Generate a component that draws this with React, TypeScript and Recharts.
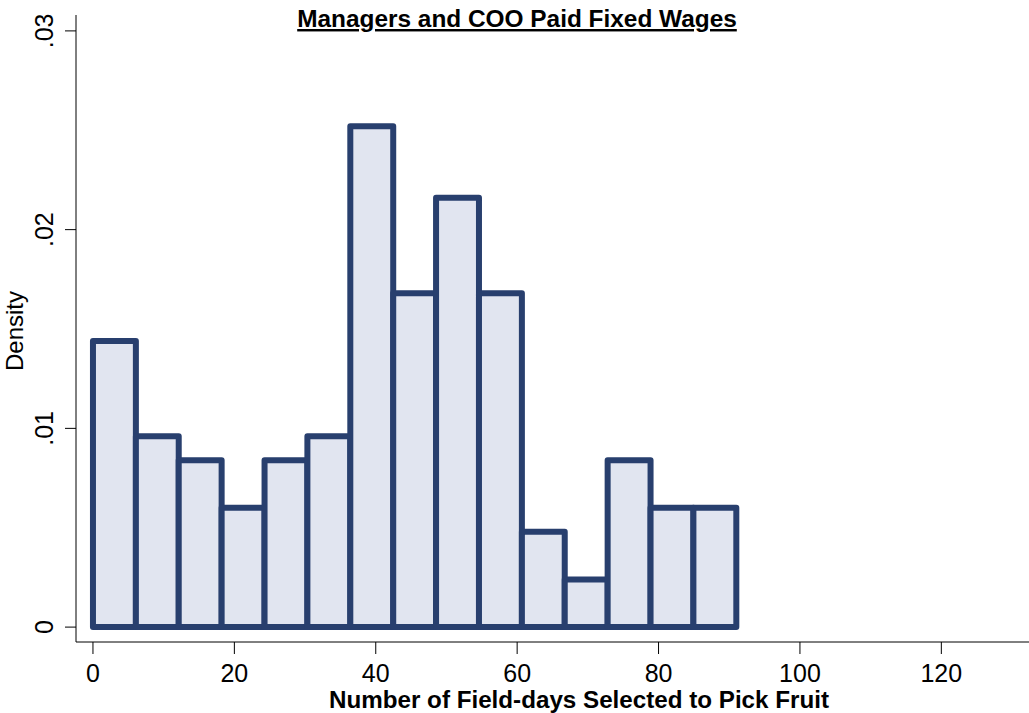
import React from 'react';
import {
  ComposedChart,
  Line,
  XAxis,
  YAxis,
  ReferenceArea,
} from 'recharts';

// histogram bins (left/right edges) and density of each bin
const binStart = [0, 6.07, 12.13, 18.2, 24.27, 30.33, 36.4, 42.47, 48.53, 54.6, 60.67, 66.73, 72.8, 78.87, 84.93];
const binEnd = [6.07, 12.13, 18.2, 24.27, 30.33, 36.4, 42.47, 48.53, 54.6, 60.67, 66.73, 72.8, 78.87, 84.93, 91];
const density = [0.0144, 0.0096, 0.0084, 0.006, 0.0084, 0.0096, 0.0252, 0.0168, 0.0216, 0.0168, 0.0048, 0.0024, 0.0084, 0.006, 0.006];

const xTicks = [0, 20, 40, 60, 80, 100, 120];
const yTicks = [0, 0.01, 0.02, 0.03];
const yTickLabels = ['0', '.01', '.02', '.03'];

const FONT = '"Liberation Sans", Arial, Helvetica, sans-serif';
const BAR_LINE = '#283f6e';
const BAR_FILL = '#e1e5f0';

const bins = binStart.map((s, i) => ({ start: s, end: binEnd[i], density: density[i] }));

const XTick = (props: any) => {
  const { x, y, payload } = props;
  return (
    <text x={x} y={y + 26} textAnchor="middle" fontSize={25} fontFamily={FONT} fill="#000">
      {payload.value}
    </text>
  );
};

const YTick = (props: any) => {
  const { y, payload, index } = props;
  return (
    <text
      x={53}
      y={y}
      transform={`rotate(-90 53 ${y})`}
      textAnchor="middle"
      fontSize={25}
      fontFamily={FONT}
      fill="#000"
    >
      {yTickLabels[index] ?? payload.value}
    </text>
  );
};

export default function App() {
  return (
    <div style={{ position: 'absolute', left: 0, top: 0, width: 1029, height: 713, background: '#fff' }}>
      <ComposedChart
        width={1029}
        height={713}
        data={bins}
        margin={{ top: 15, right: 0, bottom: 0, left: 0 }}
      >
        <XAxis
          type="number"
          dataKey="start"
          domain={[-2.4, 132.4]}
          ticks={xTicks}
          tick={<XTick />}
          tickSize={12}
          height={71}
          stroke="#000"
          allowDataOverflow
        />
        <YAxis
          type="number"
          domain={[-0.00075, 0.0308]}
          ticks={yTicks}
          tick={<YTick />}
          tickSize={11}
          width={76}
          stroke="#000"
          allowDataOverflow
        />
        {bins.map((b, i) => (
          <ReferenceArea
            key={i}
            x1={b.start}
            x2={b.end}
            y1={0}
            y2={b.density}
            fill={BAR_FILL}
            fillOpacity={1}
            stroke={BAR_LINE}
            strokeWidth={6}
            strokeLinejoin="round"
            ifOverflow="visible"
          />
        ))}
        <Line dataKey="density" stroke="none" dot={false} activeDot={false} isAnimationActive={false} />
        <text
          x={517}
          y={27}
          textAnchor="middle"
          fontSize={24.4}
          fontWeight="bold"
          fontFamily={FONT}
          textDecoration="underline"
          fill="#000"
        >
          Managers and COO Paid Fixed Wages
        </text>
        <text
          x={579}
          y={708}
          textAnchor="middle"
          fontSize={24.2}
          fontWeight="bold"
          fontFamily={FONT}
          fill="#000"
        >
          Number of Field-days Selected to Pick Fruit
        </text>
        <text
          x={23}
          y={331}
          transform="rotate(-90 23 331)"
          textAnchor="middle"
          fontSize={24}
          fontFamily={FONT}
          fill="#000"
        >
          Density
        </text>
      </ComposedChart>
    </div>
  );
}
